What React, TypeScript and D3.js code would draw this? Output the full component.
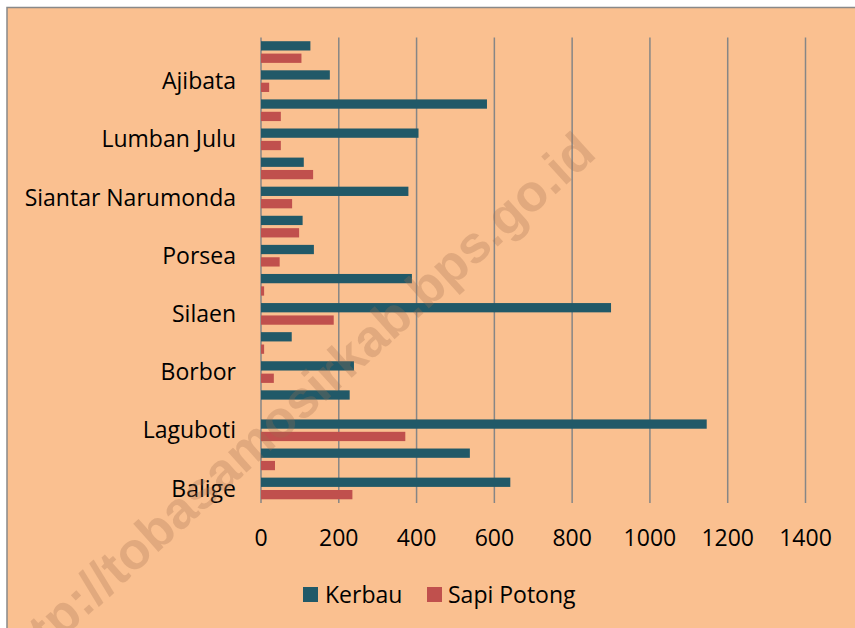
import React from 'react';
import * as d3 from 'd3';

// kecamatan, from bottom (first) to top (last)
const categories = [
  'Balige', 'Tampahan', 'Laguboti', 'Habinsaran', 'Borbor', 'Nassau',
  'Silaen', 'Sigumpar', 'Porsea', 'Pintu Pohan Meranti', 'Siantar Narumonda',
  'Parmaksian', 'Lumban Julu', 'Uluan', 'Ajibata', 'Bonatua Lunasi',
];
const kerbau = [641, 537, 1146, 228, 239, 79, 900, 388, 136, 107, 379, 110, 405, 581, 177, 127];
const sapiPotong = [235, 36, 371, 0, 33, 8, 187, 8, 48, 98, 80, 134, 51, 51, 21, 104];
const series = ['Kerbau', 'Sapi Potong'];
const xTicks = [0, 200, 400, 600, 800, 1000, 1200, 1400];

const W = 855;
const H = 628;
const colors = { Kerbau: '#215968', 'Sapi Potong': '#C0504D' };
const font = '"Open Sans", sans-serif';

const App = () => {
  const x = d3.scaleLinear().domain([0, 1400]).range([261, 805.5]);
  const y = d3.scaleBand().domain(categories).range([503, 37.5]);
  const sub = d3.scaleBand().domain(series).range([0, y.bandwidth()]).paddingInner(0.25).paddingOuter(0.3);
  const values = { Kerbau: kerbau, 'Sapi Potong': sapiPotong };

  return (
    <svg width={W} height={H} style={{ position: 'absolute', left: 0, top: 0 }} fontFamily={font}>
      <rect width={W} height={H} fill="#ffffff" />
      <rect x={7} y={7.5} width={W + 20} height={H + 20} fill="#FAC090" stroke="#898989" strokeWidth={1.5} />

      {/* gridlines */}
      {xTicks.map(t => (
        <line key={t} x1={x(t)} x2={x(t)} y1={37.5} y2={503} stroke="#868686" strokeWidth={1.5} />
      ))}

      {/* bars */}
      {categories.map((c, i) => (
        <g key={c} transform={`translate(0,${y(c)})`}>
          {series.map(s => (
            <rect
              key={s}
              x={x(0)}
              y={sub(s)}
              width={x(values[s][i]) - x(0)}
              height={sub.bandwidth()}
              fill={colors[s]}
            />
          ))}
        </g>
      ))}

      {/* category labels, every other one */}
      {categories.map((c, i) =>
        i % 2 === 0 ? (
          <text key={c} x={236} y={y(c) + y.bandwidth() / 2} dy="0.35em" textAnchor="end" fontSize={23} fill="#000">
            {c}
          </text>
        ) : null
      )}

      {/* x tick labels */}
      {xTicks.map(t => (
        <text key={t} x={x(t)} y={538} dy="0.35em" textAnchor="middle" fontSize={23} fill="#000">
          {t}
        </text>
      ))}

      {/* legend */}
      <rect x={303} y={587} width={15} height={15} fill={colors.Kerbau} />
      <text x={325} y={595} dy="0.35em" fontSize={23} fill="#000">Kerbau</text>
      <rect x={427} y={587} width={15} height={15} fill={colors['Sapi Potong']} />
      <text x={448} y={595} dy="0.35em" fontSize={23} fill="#000">Sapi Potong</text>

      {/* watermark */}
      <text
        transform="translate(598,156) rotate(-42)"
        textAnchor="end"
        fontFamily='"Liberation Sans", Arial, sans-serif'
        fontWeight="bold"
        fontSize={52}
        fill="#A06E50"
        fillOpacity={0.28}
      >
        http://tobasamosirkab.bps.go.id
      </text>
    </svg>
  );
};

export default App;
